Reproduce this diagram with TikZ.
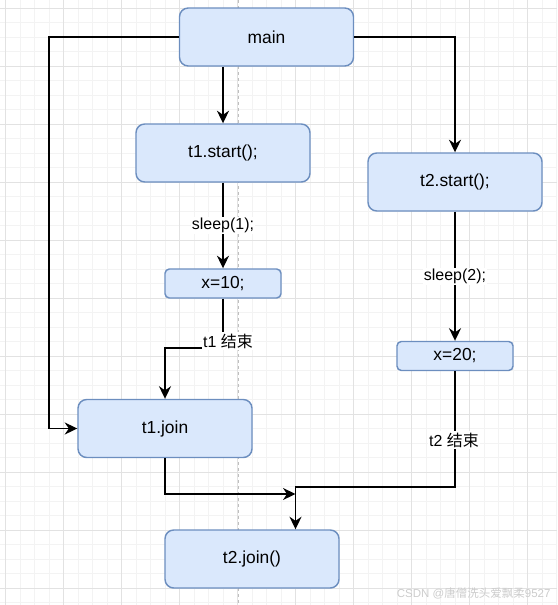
\documentclass[tikz,border=0pt]{standalone}
\usepackage{fontspec}
\setmainfont{Liberation Sans}
\newfontfamily\cjkfont{Noto Sans CJK SC}
\usetikzlibrary{arrows.meta}
\definecolor{boxfill}{HTML}{DAE8FC}
\definecolor{boxline}{HTML}{6C8EBF}
\definecolor{gridmajor}{HTML}{E2E2E2}
\definecolor{gridminor}{HTML}{F3F3F3}

\begin{document}
\begin{tikzpicture}[
  x=1pt, y=-1pt,
  font=\fontsize{17.4}{20}\selectfont,
  box/.style={draw=boxline, fill=boxfill, line width=1.45pt, rounded corners=8.7pt, minimum width=174pt, minimum height=58pt, inner sep=0pt},
  smallbox/.style={box, rounded corners=4.35pt, minimum width=116pt, minimum height=29pt},
  arrow/.style={-{Stealth[length=12.5pt,width=12pt,inset=4pt]}, line width=1.45pt},
  lbl/.style={fill=white, inner sep=1.2pt, font=\fontsize{15.95}{18}\selectfont}
]
\useasboundingbox (0,0) rectangle (557,605);
% background grid
\foreach \i in {0,...,38} \draw[gridminor, line width=0.8pt] (5.5+14.5*\i,0) -- (5.5+14.5*\i,605);
\foreach \j in {0,...,41} \draw[gridminor, line width=0.8pt] (0,8+14.5*\j) -- (557,8+14.5*\j);
\foreach \i in {0,4,...,36} \draw[gridmajor, line width=0.8pt] (5.5+58*\i/4,0) -- (5.5+58*\i/4,605);
\foreach \j in {0,4,...,40} \draw[gridmajor, line width=0.8pt] (0,8+58*\j/4) -- (557,8+58*\j/4);
\draw[gray!50, line width=0.8pt, dash pattern=on 3pt off 3pt] (238,0) -- (238,605);

\node[box] (main) at (266.5,37) {main};
\node[box] (t1start) at (223,153) {t1.start();};
\node[box] (t2start) at (455,182) {t2.start();};
\node[smallbox] (x10) at (223,283.5) {x=10;};
\node[smallbox] (x20) at (455,356) {x=20;};
\node[box] (t1join) at (165,428.5) {t1.join};
\node[box] (t2join) at (252,559) {t2.join()};

\coordinate (lft) at (49,37);
\coordinate (t1end) at (223,348);
\coordinate (meet) at (295.5,487);
\coordinate (merge) at (295.5,494);

\draw[arrow] (t1start.north |- main.south) -- (t1start.north);
\draw[arrow] (main.west) -- (lft) |- (t1join.west);
\draw[arrow] (main.east) -| (t2start.north);
\draw[arrow] (t1start) -- node[lbl] (s1) {sleep(1);} (x10);
\draw[arrow] (t2start) -- node[lbl] (s2) {sleep(2);} (x20);
\draw[arrow] (x10) -- (t1end) -| (t1join);
\node[lbl] (t1lbl) at (228,341) {t1 {\cjkfont 结束}};
\draw[arrow] (x20) |- (meet) -- (meet |- t2join.north);
\node[lbl] (t2lbl) at (454,440) {t2 {\cjkfont 结束}};
\draw[arrow] (t1join) |- (merge);

\node[text=gray!40, font=\fontsize{11.5}{13}\selectfont, anchor=east] (mark) at (554,593) {CSDN @{\cjkfont 唐僧洗头爱飘柔}9527};
\end{tikzpicture}
\end{document}
